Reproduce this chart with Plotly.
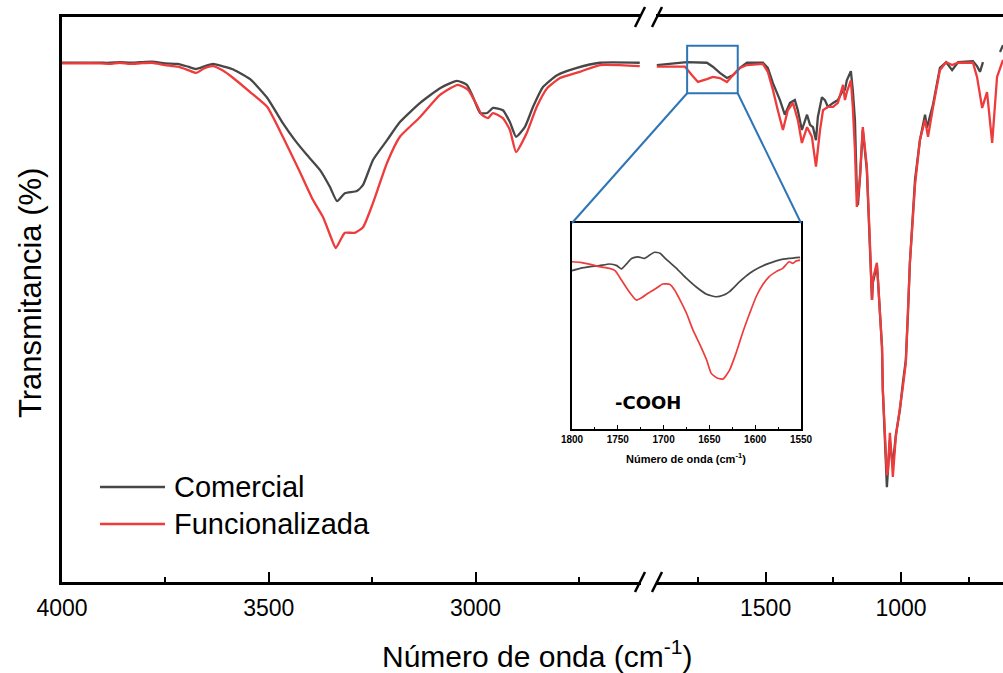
import plotly.graph_objects as go

W, H = 1003, 673

# ---------------- Spectra: 4000-2600 cm-1 ----------------
wn_com_hi = [4000, 3908, 3884, 3860, 3836, 3811, 3782, 3751, 3720, 3695,
             3676, 3654, 3635, 3613, 3589, 3570, 3545, 3504, 3466, 3437,
             3408, 3376, 3352, 3335, 3316, 3287, 3272, 3248, 3214, 3183,
             3134, 3086, 3045, 3021, 3006, 2989, 2972, 2958, 2934, 2917,
             2902, 2881, 2861, 2837, 2803, 2755, 2699, 2603]
t_com_hi = [91.9, 91.9, 91.9, 92.0, 91.9, 92.0, 92.1, 91.8, 91.7, 91.2,
            90.8, 91.3, 91.7, 91.3, 90.8, 90.1, 89.0, 85.7, 81.2, 78.2,
            75.6, 72.9, 69.9, 67.4, 68.8, 69.2, 70.3, 74.7, 78.2, 81.4,
            84.8, 87.4, 88.7, 88.0, 85.8, 83.0, 83.0, 83.9, 83.5, 81.4,
            78.8, 80.5, 84.1, 87.6, 89.7, 91.0, 91.9, 91.9]

wn_fun_hi = [4000, 3908, 3884, 3860, 3836, 3811, 3782, 3751, 3720, 3695,
             3676, 3654, 3635, 3613, 3586, 3545, 3504, 3466, 3425, 3393,
             3369, 3347, 3338, 3316, 3292, 3272, 3248, 3214, 3183, 3134,
             3086, 3043, 3018, 2997, 2985, 2970, 2958, 2934, 2917, 2902,
             2876, 2852, 2827, 2796, 2748, 2699, 2603]
t_fun_hi = [91.8, 91.8, 91.7, 91.9, 91.7, 91.8, 91.9, 91.5, 91.2, 90.6,
            90.1, 91.0, 91.3, 90.6, 89.2, 86.7, 84.1, 78.8, 72.6, 67.6,
            64.6, 60.5, 59.1, 61.8, 61.8, 62.8, 67.1, 74.2, 78.8, 82.3,
            86.2, 88.0, 87.1, 84.4, 82.7, 82.1, 83.0, 82.1, 80.0, 76.1,
            79.5, 84.1, 87.4, 89.2, 90.3, 91.5, 91.3]

# ---------------- Spectra: 1900-620 cm-1 ----------------
wn_com_lo = [1902, 1791, 1717, 1695, 1669, 1643, 1621, 1595, 1569, 1510,
             1492, 1473, 1447, 1429, 1410, 1392, 1381, 1366, 1347, 1336,
             1325, 1314, 1307, 1292, 1281, 1270, 1251, 1233, 1218, 1207,
             1200, 1185, 1178, 1170, 1163, 1159, 1152, 1141, 1126, 1115,
             1107, 1104, 1089, 1085, 1078, 1070, 1067, 1059, 1056, 1052,
             1048, 1041, 1033, 1030, 1019, 1004, 993, 982, 974, 967,
             948, 930, 911, 904, 882, 856, 833, 811, 789, 734,
             719, 708, 697, None, 634, 623]
t_com_lo = [91.5, 92.0, 91.9, 91.2, 90.1, 89.2, 89.7, 91.0, 91.9, 91.9,
            91.0, 88.3, 85.3, 82.7, 84.8, 85.3, 83.5, 80.0, 82.7, 80.9,
            80.5, 78.2, 82.3, 85.8, 85.3, 84.1, 84.8, 85.3, 86.7, 87.1,
            88.8, 90.4, 87.1, 81.8, 69.4, 66.7, 71.2, 80.0, 72.9, 59.6,
            49.9, 52.9, 56.1, 53.5, 46.9, 41.6, 34.0, 25.7, 20.7, 16.8,
            19.8, 25.1, 21.6, 20.7, 26.0, 30.4, 35.2, 39.3, 47.6, 56.5,
            71.2, 78.2, 82.7, 80.4, 84.4, 91.0, 92.0, 90.6, 92.0, 92.2,
            91.3, 90.3, 92.0, None, 93.8, 95.0]

wn_fun_lo = [1902, 1798, 1772, 1750, 1717, 1695, 1669, 1643, 1621, 1595,
             1569, 1510, 1492, 1473, 1455, 1436, 1418, 1399, 1381, 1366,
             1347, 1329, 1314, 1299, 1288, 1270, 1251, 1233, 1214, 1207,
             1200, 1185, 1178, 1170, 1163, 1152, 1141, 1126, 1115, 1107,
             1104, 1089, 1085, 1078, 1070, 1067, 1059, 1052, 1048, 1041,
             1033, 1030, 1019, 1004, 993, 982, 974, 967, 948, 930,
             911, 900, 882, 856, 833, 811, 789, 734, 719, 700,
             682, 663, 645, 634, 623]
t_fun_lo = [91.2, 91.2, 89.7, 88.5, 89.0, 89.4, 89.2, 88.5, 89.7, 91.0,
            91.5, 91.7, 90.3, 87.1, 83.5, 80.0, 83.5, 84.8, 81.8, 77.7,
            80.5, 78.8, 73.5, 80.0, 83.5, 84.1, 84.1, 84.8, 88.0, 85.3,
            86.7, 88.8, 84.1, 76.5, 66.4, 71.2, 80.5, 73.5, 60.5, 49.9,
            53.5, 56.5, 53.5, 46.9, 41.6, 34.0, 25.7, 18.9, 19.8, 26.4,
            21.1, 18.6, 25.7, 30.4, 34.5, 38.8, 47.6, 56.5, 70.3, 78.2,
            81.8, 78.8, 83.9, 90.6, 92.0, 91.5, 91.9, 91.9, 89.4, 83.9,
            86.7, 77.7, 89.4, 91.0, 92.4]

# ---------------- Zoomed carbonyl region (1800-1550 cm-1) ----------------
wn_com_zoom = [1800, 1791, 1780, 1770, 1759, 1751, 1746, 1740, 1735, 1728,
               1721, 1715, 1710, 1704, 1697, 1686, 1675, 1664, 1653, 1643,
               1635, 1628, 1617, 1606, 1595, 1585, 1574, 1563, 1551]
t_com_zoom = [76.9, 78.0, 78.8, 79.3, 80.1, 79.3, 77.7, 80.4, 82.8, 83.6,
              82.8, 84.5, 85.8, 85.3, 82.3, 78.0, 73.1, 68.8, 65.4, 64.2,
              64.9, 66.7, 71.5, 75.6, 78.5, 80.4, 82.0, 82.8, 83.3]

wn_fun_zoom = [1800, 1791, 1780, 1770, 1759, 1753, 1746, 1739, 1730, 1724,
               1717, 1708, 1701, 1693, 1688, 1682, 1675, 1668, 1661, 1653,
               1648, 1641, 1635, 1628, 1621, 1614, 1606, 1599, 1592, 1585,
               1577, 1570, 1563, 1559, 1555, 1551]
t_fun_zoom = [81.2, 80.9, 79.9, 78.8, 78.0, 76.9, 72.3, 67.5, 62.6, 63.7,
              65.9, 68.3, 70.4, 70.2, 67.5, 62.6, 56.2, 48.1, 41.6, 33.5,
              27.0, 24.6, 24.3, 28.6, 36.7, 46.4, 56.2, 64.2, 69.9, 73.9,
              76.4, 78.0, 81.2, 80.4, 81.6, 82.0]

ticks_hi = [4000, 3500, 3000]
ticks_lo = [1500, 1000]
ticks_zoom = [1800, 1750, 1700, 1650, 1600, 1550]

series_names = ["Comercial", "Funcionalizada"]
series_colors = ["#474747", "#ee3b3b"]

# ---------------- Layout geometry ----------------
def px_x(p):
    return p / W

def px_y(p):
    return 1 - p / H

X1_DOM = [px_x(62), px_x(641)]
X2_DOM = [px_x(656), 1.0]
Y_DOM = [px_y(582), px_y(17)]
X1_RANGE = [4000, 2600]
X2_RANGE = [1905, 623]
Y_RANGE = [0, 100]
X3_DOM = [px_x(572), px_x(801)]
Y3_DOM = [px_y(429), px_y(223)]
X3_RANGE = [1800, 1550]

TXT_FONT = "Liberation Sans, Arial, sans-serif"

fig = go.Figure()

hi_sets = [(wn_com_hi, t_com_hi), (wn_fun_hi, t_fun_hi)]
lo_sets = [(wn_com_lo, t_com_lo), (wn_fun_lo, t_fun_lo)]
zoom_sets = [(wn_com_zoom, t_com_zoom), (wn_fun_zoom, t_fun_zoom)]

for name, color, (xh, yh), (xl, yl), (xz, yz) in zip(series_names, series_colors,
                                                      hi_sets, lo_sets, zoom_sets):
    fig.add_trace(go.Scatter(x=xh, y=yh, mode="lines", name=name,
                             line=dict(color=color, width=2.3, shape="spline",
                                       smoothing=0.5),
                             xaxis="x", yaxis="y", showlegend=False))
    fig.add_trace(go.Scatter(x=xl, y=yl, mode="lines", name=name,
                             line=dict(color=color, width=2.3),
                             xaxis="x2", yaxis="y", showlegend=False,
                             connectgaps=False))
    fig.add_trace(go.Scatter(x=xz, y=yz, mode="lines", name=name,
                             line=dict(color=color, width=1.7, shape="spline",
                                       smoothing=0.5),
                             xaxis="x3", yaxis="y3", showlegend=False))

main_axis = dict(showline=True, linecolor="black", linewidth=2.5, mirror=True,
                 showgrid=False, zeroline=False, ticks="inside", ticklen=10,
                 tickwidth=2, tickcolor="black", ticklabelstandoff=4,
                 tickfont=dict(family=TXT_FONT, size=23, color="black"))

fig.update_layout(
    width=W, height=H,
    margin=dict(l=0, r=0, t=0, b=0, autoexpand=False),
    paper_bgcolor="white", plot_bgcolor="white",
    showlegend=False,
    xaxis=dict(domain=X1_DOM, range=X1_RANGE, anchor="y",
               tickvals=ticks_hi, ticktext=[str(v) for v in ticks_hi],
               minor=dict(ticks="inside", ticklen=5, tickwidth=2, tickcolor="black",
                          tickvals=[3750, 3250, 2750]),
               **main_axis),
    xaxis2=dict(domain=X2_DOM, range=X2_RANGE, anchor="y",
                tickvals=ticks_lo, ticktext=[str(v) for v in ticks_lo],
                minor=dict(ticks="inside", ticklen=5, tickwidth=2, tickcolor="black",
                           tickvals=[1750, 1250, 750]),
                **main_axis),
    yaxis=dict(domain=Y_DOM, range=Y_RANGE, anchor="x",
               showline=True, linecolor="black", linewidth=2.5, mirror=False,
               showticklabels=False, ticks="", showgrid=False, zeroline=False),
    xaxis3=dict(domain=X3_DOM, range=X3_RANGE, anchor="y3",
                showline=True, linecolor="black", linewidth=1.5, mirror=True,
                showgrid=False, zeroline=False, ticks="inside", ticklen=4,
                tickwidth=1, tickcolor="black",
                tickvals=ticks_zoom, ticktext=[str(v) for v in ticks_zoom],
                minor=dict(ticks="inside", ticklen=2, tickwidth=1, tickcolor="black",
                           tickvals=[1775, 1725, 1675, 1625, 1575]),
                tickfont=dict(family=TXT_FONT, size=10, color="black", weight="bold")),
    yaxis3=dict(domain=Y3_DOM, range=[0, 100], anchor="x3",
                showline=True, linecolor="black", linewidth=1.5, mirror=True,
                showticklabels=False, ticks="", showgrid=False, zeroline=False),
)

# ---------------- Box marking the zoomed region and its guide lines ----------------
def x2_to_paper(v):
    return X2_DOM[0] + (v - X2_RANGE[0]) / (X2_RANGE[1] - X2_RANGE[0]) * (X2_DOM[1] - X2_DOM[0])

def y_to_paper(v):
    return Y_DOM[0] + (v - Y_RANGE[0]) / (Y_RANGE[1] - Y_RANGE[0]) * (Y_DOM[1] - Y_DOM[0])

box_wn = [1790, 1603]
box_t = [86.5, 94.9]
blue = "#2e75b6"
fig.add_shape(type="rect", xref="x2", yref="y", x0=box_wn[0], x1=box_wn[1],
              y0=box_t[0], y1=box_t[1], line=dict(color=blue, width=2))
fig.add_shape(type="line", xref="paper", yref="paper",
              x0=x2_to_paper(box_wn[0]), y0=y_to_paper(box_t[0]),
              x1=X3_DOM[0], y1=Y3_DOM[1], line=dict(color=blue, width=2))
fig.add_shape(type="line", xref="paper", yref="paper",
              x0=x2_to_paper(box_wn[1]), y0=y_to_paper(box_t[0]),
              x1=X3_DOM[1], y1=Y3_DOM[1], line=dict(color=blue, width=2))

# ---------------- Axis break marks ----------------
for ybase in (17, 582):
    for xa in (635, 652):
        fig.add_shape(type="line", xref="paper", yref="paper",
                      x0=px_x(xa), y0=px_y(ybase + 10),
                      x1=px_x(xa + 10), y1=px_y(ybase - 10),
                      line=dict(color="black", width=2.5))

# ---------------- Legend ----------------
for i, (name, color) in enumerate(zip(series_names, series_colors)):
    yy = 487 + 37 * i
    fig.add_shape(type="line", xref="paper", yref="paper",
                  x0=px_x(100), x1=px_x(165), y0=px_y(yy), y1=px_y(yy),
                  line=dict(color=color, width=2.5))
    fig.add_annotation(xref="paper", yref="paper", x=px_x(172), y=px_y(yy),
                       text=name, showarrow=False, xanchor="left", yanchor="middle",
                       font=dict(family=TXT_FONT, size=29, color="black"))

# ---------------- Titles and labels ----------------
fig.add_annotation(xref="paper", yref="paper", x=px_x(537), y=px_y(654),
                   text="Número de onda (cm<sup>-1</sup>)", showarrow=False,
                   xanchor="center", yanchor="middle",
                   font=dict(family=TXT_FONT, size=30, color="black"))
fig.add_annotation(xref="paper", yref="paper", x=px_x(30), y=px_y(293),
                   text="Transmitancia (%)", showarrow=False, textangle=-90,
                   xanchor="center", yanchor="middle",
                   font=dict(family=TXT_FONT, size=31, color="black"))
fig.add_annotation(xref="paper", yref="paper", x=px_x(686), y=px_y(458),
                   text="Número de onda (cm<sup>-1</sup>)", showarrow=False,
                   xanchor="center", yanchor="middle",
                   font=dict(family=TXT_FONT, size=11, color="black", weight="bold"))
fig.add_annotation(xref="paper", yref="paper", x=px_x(648), y=px_y(402),
                   text="-COOH", showarrow=False, xanchor="center", yanchor="middle",
                   font=dict(family="DejaVu Sans, sans-serif", size=18, color="black",
                             weight="bold"))

fig.write_html("out.html")
